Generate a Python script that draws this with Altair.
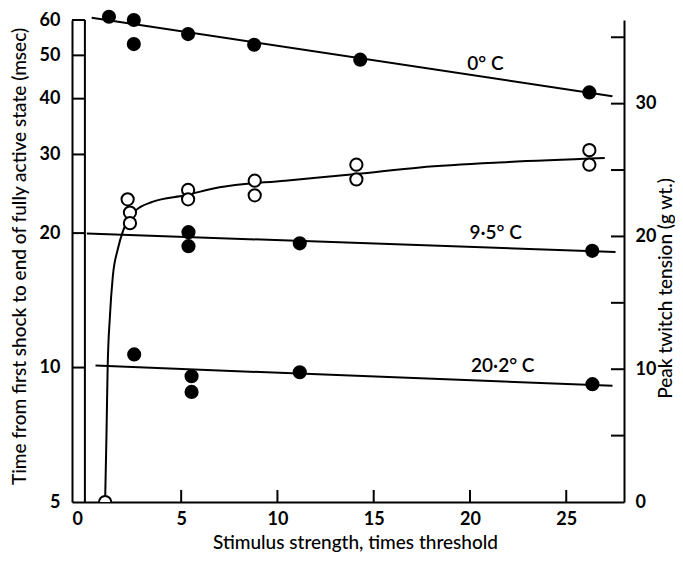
import altair as alt
import pandas as pd

# ---------------- data ----------------
# filled circles: time to end of fully active state (msec, log scale, left axis)
cold_x = [1.25, 2.54, 2.54, 5.36, 8.79, 14.3, 26.2]
cold_y = [61.0, 60.0, 53.0, 55.8, 52.8, 48.9, 41.3]
mid_x = [5.38, 5.38, 11.16, 26.35]
mid_y = [20.1, 18.7, 18.97, 18.25]
warm_x = [2.56, 5.54, 5.54, 11.16, 26.36]
warm_y = [10.7, 9.56, 8.82, 9.76, 9.18]

# fitted straight lines (on the log scale)
cold_line_x = [0.35, 27.4]
cold_line_y = [60.7, 40.5]
mid_line_x = [0.1, 27.56]
mid_line_y = [19.96, 18.15]
warm_line_x = [0.55, 27.4]
warm_line_y = [10.1, 9.1]

# open circles: peak twitch tension (g wt., right axis)
tens_x = [1.05, 2.22, 2.34, 2.34, 5.36, 5.36, 8.82, 8.82, 14.1, 14.1, 26.2, 26.2]
tens_y = [0.0, 22.8, 21.8, 21.0, 23.5, 22.8, 24.2, 23.1, 25.4, 24.3, 26.5, 25.4]

# smooth curve through the tension points
curve_x = [1.05, 1.12, 1.18, 1.3, 1.45, 1.7, 2.0, 2.6, 3.5, 5.2, 7.0, 10.4, 14.1, 17.4, 22.0, 27.0]
curve_y = [0.0, 5.0, 10.0, 14.0, 17.0, 19.0, 20.5, 21.9, 22.6, 23.1, 23.7, 24.2, 24.7, 25.2, 25.6, 25.9]

# temperature labels
label_text = ["0\u00b0 C", "9\u00b75\u00b0 C", "20\u00b72\u00b0 C"]
label_x = [20.8, 21.33, 21.7]
label_y = [47.9, 20.0, 10.1]

# axis values
x_ticks = [5, 10, 15, 20, 25]
left_ticks = [5, 10, 20, 30, 40, 50, 60]
box_ticks = [10, 20, 30, 40, 50, 60]
right_labels = [0, 10, 20, 30]
right_ticks = [5, 10, 15, 20, 25, 30, 35]

X_MIN, X_MAX = -0.67, 28
W, H = 552, 482
FONT = "Lato"


def xs():
    return alt.Scale(domain=[X_MIN, X_MAX], nice=False, zero=False)


def yl():
    return alt.Scale(type="log", domain=[5, 60], nice=False)


def yr():
    return alt.Scale(domain=[0, 36.3], nice=False, zero=False)


# ---------------- data frames ----------------
filled_df = pd.DataFrame({
    "x": cold_x + mid_x + warm_x,
    "y": cold_y + mid_y + warm_y,
})
lines_df = pd.DataFrame({
    "g": ["c"] * 2 + ["m"] * 2 + ["w"] * 2,
    "x": cold_line_x + mid_line_x + warm_line_x,
    "y": cold_line_y + mid_line_y + warm_line_y,
})
labels_df = pd.DataFrame({"t": label_text, "x": label_x, "y": label_y})
box_df = pd.DataFrame({"y": box_ticks, "x": [X_MIN] * len(box_ticks), "x2": [0] * len(box_ticks)})
box_v_df = pd.DataFrame({"x": [0], "y": [5], "y2": [60]})
xt_df = pd.DataFrame({"x": x_ticks})
tens_df = pd.DataFrame({"x": tens_x, "y": tens_y})
curve_df = pd.DataFrame({"x": curve_x, "y": curve_y})
rt_df = pd.DataFrame({"y": right_ticks})

AX = dict(domainColor="black", domainWidth=2, labelColor="black", titleColor="black",
          labelFont=FONT, titleFont=FONT, labelFontWeight="bold", titleFontWeight=500,
          ticks=False, grid=False, labelFontSize=18)

# the same x axis object is given to every layer so they merge cleanly
x_axis = alt.Axis(
    orient="bottom",
    values=[X_MIN] + x_ticks,
    labelExpr="datum.value < 0 ? '0' : datum.label",
    labelPadding=8,
    title="Stimulus strength, times threshold", titleFontSize=19,
    titleX=283, titleY=46, titleAlign="center", titleBaseline="alphabetic", **AX,
)
left_axis = alt.Axis(
    orient="left", values=left_ticks, format="d", labelPadding=12,
    title="Time from first shock to end of fully active state (msec)", titleFontSize=19,
    titleX=-53, titleY=236, titleAngle=270, titleBaseline="middle", titleAlign="center",
    **AX,
)
right_axis = alt.Axis(
    orient="right", values=right_labels, format="d", labelPadding=11,
    title="Peak twitch tension (g wt.)", titleFontSize=19,
    titleX=41, titleY=268, titleAngle=270, titleBaseline="middle", titleAlign="center",
    **AX,
)


def X():
    return alt.X("x:Q", scale=xs(), axis=x_axis)


# ---------------- left (log) layers ----------------
filled = alt.Chart(filled_df).mark_circle(color="black", opacity=1, size=200).encode(
    x=X(),
    y=alt.Y("y:Q", scale=yl(), axis=left_axis),
)
box_h = alt.Chart(box_df).mark_rule(color="black", strokeWidth=2).encode(
    x=X(), x2="x2:Q",
    y=alt.Y("y:Q", scale=yl(), axis=None),
)
box_v = alt.Chart(box_v_df).mark_rule(color="black", strokeWidth=2).encode(
    x=X(),
    y=alt.Y("y:Q", scale=yl(), axis=None), y2="y2:Q",
)
xt = alt.Chart(xt_df).mark_rule(color="black", strokeWidth=2).encode(
    x=X(),
    y=alt.value(H), y2=alt.value(H - 12),
)
lines = alt.Chart(lines_df).mark_line(color="black", strokeWidth=2).encode(
    x=X(),
    y=alt.Y("y:Q", scale=yl(), axis=None),
    detail="g:N",
)
labels = alt.Chart(labels_df).mark_text(
    font=FONT, fontSize=19, fontWeight=600, color="black", align="center", baseline="middle"
).encode(
    x=X(),
    y=alt.Y("y:Q", scale=yl(), axis=None),
    text="t:N",
)

# ---------------- right (linear) layers ----------------
curve = alt.Chart(curve_df).mark_line(color="black", strokeWidth=2, interpolate="monotone", clip=True).encode(
    x=X(),
    y=alt.Y("y:Q", scale=yr(), axis=None),
)
opens = alt.Chart(tens_df).mark_point(
    shape="circle", filled=False, fill="white", fillOpacity=1, stroke="black",
    strokeWidth=2, size=150, opacity=1, clip=True,
).encode(
    x=X(),
    y=alt.Y("y:Q", scale=yr(), axis=right_axis),
)
rt = alt.Chart(rt_df).mark_rule(color="black", strokeWidth=2).encode(
    y=alt.Y("y:Q", scale=yr(), axis=None),
    x=alt.value(W - 13), x2=alt.value(W),
)

chart = alt.layer(
    filled, box_h, box_v, xt, lines, labels, curve, opens, rt
).resolve_scale(y="independent").properties(
    width=W, height=H,
    background="white",
    autosize=alt.AutoSizeParams(type="none"),
    padding={"left": 64, "top": 12, "right": 51, "bottom": 51},
).configure_view(strokeWidth=0)

chart.save("out.html", embed_options={"renderer": "svg", "actions": False})
